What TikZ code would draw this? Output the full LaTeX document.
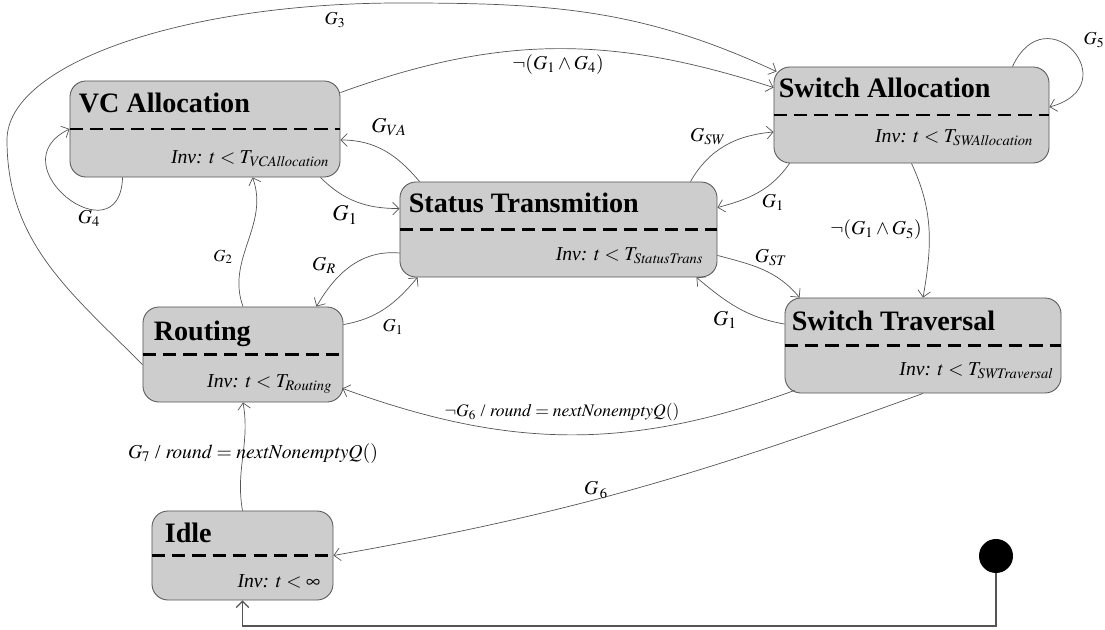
\documentclass[tikz,border=0pt]{standalone}
\usepackage{mathptmx}
\usepackage{fontspec}
\setmainfont{Liberation Serif}
\usetikzlibrary{arrows.meta,calc}
\definecolor{boxgray}{RGB}{205,205,205}
\definecolor{edgegray}{RGB}{85,85,85}
\begin{document}
\begin{tikzpicture}[x=0.025cm,y=0.025cm,
  state/.style={draw=edgegray, line width=0.6pt, fill=boxgray, rounded corners=0.4cm, inner sep=0pt},
  sep/.style={dash pattern=on 9.5pt off 5pt, line width=1.8pt},
  ttl/.style={anchor=base west, inner sep=0pt, font=\fontsize{20}{24}\selectfont\bfseries},
  inv/.style={anchor=base east, inner sep=0pt, font=\fontsize{14}{17}\selectfont},
  trans/.style={draw=edgegray, line width=0.5pt, -{Straight Barb[length=4.5pt,width=9pt]}},
  lbl/.style={inner sep=0pt, font=\fontsize{14}{16}\selectfont}]
\useasboundingbox (0,0) rectangle (1105,630);
% states
\node[state, minimum width=6.75cm, minimum height=2.4cm] (vc) at (205,501) {};
\node[state, minimum width=6.875cm, minimum height=2.4cm] (sa) at (911.5,515) {};
\node[state, minimum width=7.925cm, minimum height=2.375cm] (st) at (558.5,400.5) {};
\node[state, minimum width=6.9cm, minimum height=2.375cm] (swt) at (923,284.5) {};
\node[state, minimum width=5cm, minimum height=2.375cm] (rt) at (243,275.5) {};
\node[state, minimum width=4.525cm, minimum height=2.225cm] (idle) at (242.5,74.5) {};
\foreach \s in {vc,sa,st,swt,rt,idle}
  \draw[sep] (\s.west) -- (\s.east);
\node[ttl] (vcT) at ($(vc.north west)+(9,-32)$) {VC Allocation};
\node[ttl] (saT) at ($(sa.north west)+(5,-31)$) {Switch Allocation};
\node[ttl] (stT) at ($(st.north west)+(9,-31)$) {Status Transmition};
\node[ttl] (swtT) at ($(swt.north west)+(7,-33)$) {Switch Traversal};
\node[ttl] (rtT) at ($(rt.north west)+(11,-34)$) {Routing};
\node[ttl] (idleT) at ($(idle.north west)+(13,-32)$) {Idle};
\node[inv] (vcI) at ($(vc.south east)+(-11,14)$) {\textit{Inv:} $t<T_{\mathit{VCAllocation}}$};
\node[inv] (saI) at ($(sa.south east)+(-16,21)$) {\textit{Inv:} $t<T_{\mathit{SWAllocation}}$};
\node[inv] (stI) at ($(st.south east)+(-14,17)$) {\textit{Inv:} $t<T_{\mathit{StatusTrans}}$};
\node[inv] (swtI) at ($(swt.south east)+(-8,18)$) {\textit{Inv:} $t<T_{\mathit{SWTraversal}}$};
\node[inv] (rtI) at ($(rt.south east)+(-11,15)$) {\textit{Inv:} $t<T_{\mathit{Routing}}$};
\node[inv] (idleI) at ($(idle.south east)+(-13,13)$) {\textit{Inv:} $t<\infty$};
% transitions
\draw[trans] ($(rt.north west)+(0,-58)$) to[out=135,in=-90] (7,490)
  .. controls (7,566) and (183,627) .. (400,627) to[out=0,in=155] ($(sa.north west)+(3,-5)$);
\node[lbl] (lG3) at (335,610) {\fontsize{13}{15}\selectfont$G_3$};
\draw[trans] ($(vc.north east)+(0,-12)$) to[out=20,in=162] ($(sa.north west)+(0,-21)$);
\node[lbl] (lNot14) at (558,565) {$\neg(G_1\wedge G_4)$};
\draw[trans] ($(sa.north east)+(-37,0)$) to[out=65,in=15,looseness=3.8] ($(sa.east)+(0,8)$);
\node[lbl] (lG5) at (1094,590) {\fontsize{13}{15}\selectfont$G_5$};
\draw[trans] ($(vc.south west)+(53,0)$) .. controls (120,370) and (-5,465) .. (vc.west);
\node[lbl] (lG4) at (89,412) {$G_4$};
\draw[trans] ($(st.north west)+(20,0)$) to[out=130,in=0] ($(vc.east)+(0,-11)$);
\node[lbl] (lGVA) at (389,503) {\fontsize{15}{17}\selectfont$G_{VA}$};
\draw[trans] ($(vc.south east)+(-20,0)$) to[out=-45,in=180] ($(st.north west)+(0,-27)$);
\node[lbl] (lG1a) at (345,415) {\fontsize{16}{18}\selectfont$G_1$};
\draw[trans] (rt.north) to[out=110,in=-70] ($(vc.south west)+(183,0)$);
\node[lbl] (lG2) at (223,373) {\fontsize{12}{14}\selectfont$G_2$};
\draw[trans] ($(st.west)+(0,-23.5)$) to[out=175,in=60] ($(rt.north east)+(-27,0)$);
\node[lbl] (lGR) at (324,365) {$G_R$};
\draw[trans] ($(rt.north east)+(0,-18)$) to[out=10,in=-130] ($(st.south west)+(18,0)$);
\node[lbl] (lG1b) at (393,303) {\fontsize{13}{15}\selectfont$G_1$};
\draw[trans] ($(st.north east)+(-27,0)$) to[out=60,in=185] ($(sa.west)+(0,-17)$);
\node[lbl] (lGSW) at (708,493) {$G_{SW}$};
\draw[trans] ($(sa.south west)+(16,0)$) to[out=-125,in=15] ($(st.north east)+(0,-26)$);
\node[lbl] (lG1c) at (773,428) {$G_1$};
\draw[trans] (sa.south) to[out=-65,in=80] (swt.north);
\node[lbl] (lNot15) at (876,400) {$\neg(G_1\wedge G_5)$};
\draw[trans] ($(st.south east)+(0,22)$) to[out=-15,in=130] ($(swt.north west)+(15,0)$);
\node[lbl] (lGST) at (771,372) {$G_{ST}$};
\draw[trans] ($(swt.north west)+(0,-26.5)$) to[out=170,in=-40] ($(st.south east)+(-21,0)$);
\node[lbl] (lG1d) at (725,310) {\fontsize{15}{17}\selectfont$G_1$};
\draw[trans] ($(swt.south west)+(10,3)$) to[out=200,in=-20] ($(rt.south east)+(-1,14)$);
\node[lbl] (lNot6) at (562,218) {\fontsize{12.5}{14}\selectfont$\neg G_6$ / $\mathit{round}=\mathit{nextNonemptyQ}()$};
\draw[trans] (swt.south) to[out=200,in=10] (idle.east);
\node[lbl] (lG6) at (596,140) {$G_{\,6}$};
\draw[trans] (idle.north) to[out=100,in=-80] (rt.south);
\node[lbl] (lG7) at (253,176) {\fontsize{14}{16}\selectfont$G_7$ / $\mathit{round}=\mathit{nextNonemptyQ}()$};
% initial state
\node[circle, fill=black, minimum size=0.85cm, inner sep=0pt] (init) at (996,74) {};
\coordinate (initB) at (996,4);
\draw[draw=edgegray, line width=0.9pt, -{Straight Barb[length=4.5pt,width=9pt]}] (init.south) -- (initB) -| (idle.south);
\end{tikzpicture}
\end{document}
